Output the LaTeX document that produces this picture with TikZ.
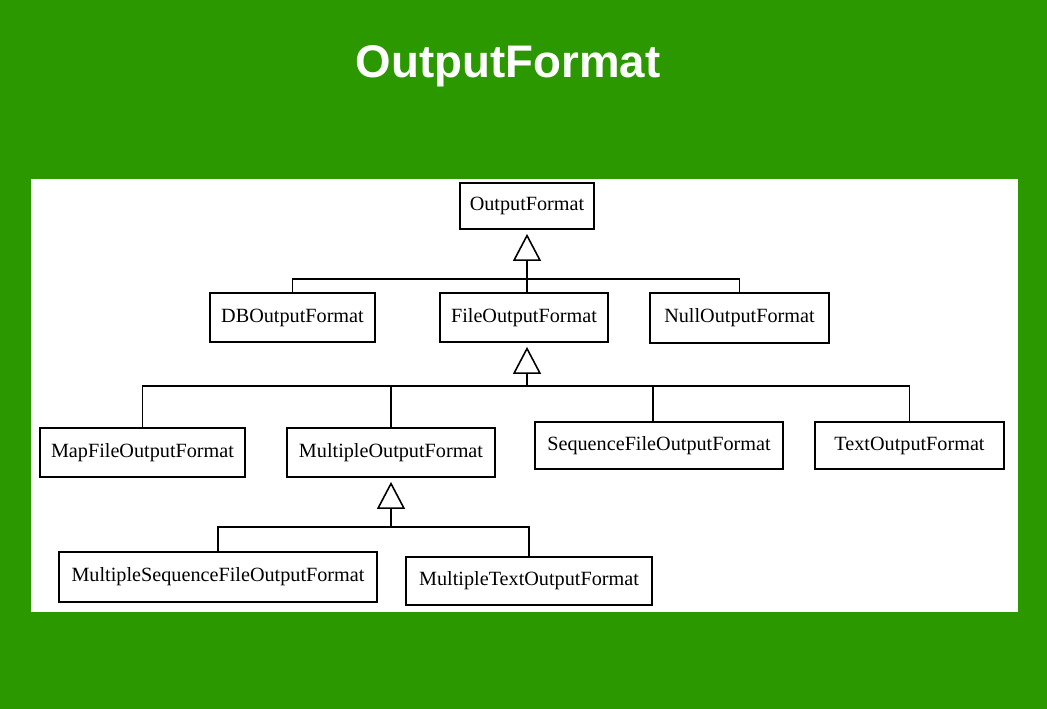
\documentclass[tikz,border=0pt]{standalone}
\usepackage{fontspec}
\setmainfont{Liberation Serif}
\newfontfamily\titlefont{Liberation Sans}
\usetikzlibrary{arrows.meta,positioning}
\definecolor{bggreen}{RGB}{43,152,0}
\tikzset{
  classbox/.style={rectangle, draw=black, fill=white, line width=1pt, inner sep=2pt,
    font=\fontsize{11.5}{13}\selectfont, text centered},
  tree/.style={line width=1pt, draw=black},
  inherit/.style={line width=1.4pt, draw=black, shorten >=0.08cm,
    -{Triangle[open, width=0.56cm, length=0.54cm, line width=0.9pt]}}
}

\begin{document}
\begin{tikzpicture}[x=0.02cm, y=-0.02cm]
% Background and panel
\fill[bggreen] (0,0) rectangle (1047,709);
\fill[white] (31,179) rectangle (1018,612);
\node[text=white, font=\titlefont\bfseries\fontsize{26}{30}\selectfont] (title) at (508,66) {OutputFormat};

% Classes
\node[classbox, minimum width=2.68cm, minimum height=0.92cm] (out) at (527,206) {OutputFormat};
\node[classbox, minimum width=3.3cm, minimum height=0.98cm] (db) at (292.5,317.5) {DBOutputFormat};
\node[classbox, minimum width=3.36cm, minimum height=0.98cm] (file) at (524,317.5) {FileOutputFormat};
\node[classbox, minimum width=3.58cm, minimum height=1.0cm] (null) at (739.5,318) {NullOutputFormat};
\node[classbox, minimum width=4.1cm, minimum height=0.98cm] (map) at (142.5,452.5) {MapFileOutputFormat};
\node[classbox, minimum width=4.16cm, minimum height=0.98cm] (mult) at (391,452.5) {MultipleOutputFormat};
\node[classbox, minimum width=4.96cm, minimum height=0.94cm] (seq) at (659,445.5) {SequenceFileOutputFormat};
\node[classbox, minimum width=3.78cm, minimum height=0.94cm] (text) at (909.5,445.5) {TextOutputFormat};
\node[classbox, minimum width=6.36cm, minimum height=1.0cm] (mseq) at (218,577) {MultipleSequenceFileOutputFormat};
\node[classbox, minimum width=4.92cm, minimum height=0.96cm] (mtext) at (529,581) {MultipleTextOutputFormat};

% Junctions
\coordinate (j1) at (527,279);
\coordinate (j2) at (527,386);
\coordinate (j3) at (391,527);

% Inheritance
\draw[inherit] (j1) -- (out.south);
\draw[tree] (db.north) |- (j1) -| (null.north);
\draw[tree] (j1) -- (j1 |- file.north);

\draw[inherit] (j2) -- (file.south -| j2);
\draw[tree] (map.north) |- (j2) -| (text.north);
\draw[tree] (mult.north) |- (j2);
\draw[tree] ([xshift=-0.12cm]seq.north) |- (j2);

\draw[inherit] (j3) -- (mult.south);
\draw[tree] (mseq.north) |- (j3) -| (mtext.north);
\end{tikzpicture}
\end{document}
